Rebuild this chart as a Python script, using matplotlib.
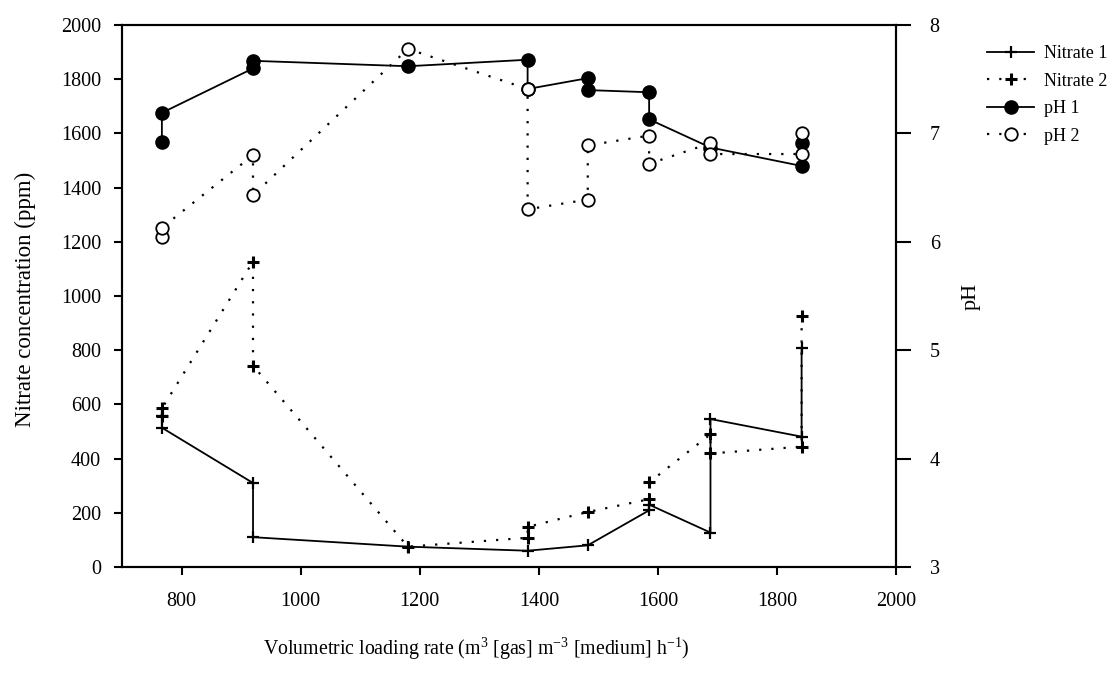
import numpy as np
import matplotlib.pyplot as plt
from matplotlib.ticker import MultipleLocator

plt.rcParams['font.family'] = ['Liberation Serif', 'DejaVu Serif']
plt.rcParams['mathtext.fontset'] = 'custom'
plt.rcParams['mathtext.rm'] = 'Liberation Serif'
plt.rcParams['mathtext.it'] = 'Liberation Serif:italic'

# loading rates (m3 gas / m3 medium / h), two readings per rate
nitrate1_x = [767, 767, 920, 920, 1180, 1381, 1482, 1585, 1585, 1688, 1688, 1841, 1841]
nitrate1_y = [557, 514, 310, 110, 75, 60, 80, 209, 230, 127, 546, 481, 810]

nitrate2_x = [767, 767, 920, 920, 1180, 1381, 1381, 1482, 1585, 1585, 1688, 1688, 1841, 1841]
nitrate2_y = [557, 585, 1127, 743, 75, 108, 148, 203, 250, 312, 490, 419, 444, 928]

ph1_x = [767, 767, 920, 920, 1180, 1381, 1381, 1482, 1482, 1585, 1585, 1688, 1841, 1841]
ph1_y = [6.92, 7.19, 7.60, 7.67, 7.62, 7.68, 7.41, 7.51, 7.40, 7.38, 7.13, 6.87, 6.70, 6.91]

ph2_x = [767, 767, 920, 920, 1180, 1381, 1381, 1482, 1482, 1585, 1585, 1688, 1688, 1841, 1841]
ph2_y = [6.04, 6.13, 6.80, 6.43, 7.78, 7.41, 6.30, 6.39, 6.89, 6.98, 6.72, 6.91, 6.81, 6.81, 7.00]

fs = 14.5
dots = (0, (1, 4.5))

fig = plt.figure(figsize=(11.19, 6.77), dpi=100)
ax = fig.add_axes([0.109, 0.1625, 0.692, 0.8005])
ax2 = ax.twinx()

l1, = ax.plot(nitrate1_x, nitrate1_y, color='k', lw=1.3, marker='+',
              ms=8, mew=1.6, label='Nitrate 1')
l2, = ax.plot(nitrate2_x, nitrate2_y, color='k', lw=1.6, ls=dots, marker='+',
              ms=8, mew=2.2, label='Nitrate 2')
l3, = ax2.plot(ph1_x, ph1_y, color='k', lw=1.3, marker='o', ms=9.5,
               mfc='k', mec='k', label='pH 1')
l4, = ax2.plot(ph2_x, ph2_y, color='k', lw=1.6, ls=dots, marker='o', ms=9,
               mfc='white', mec='k', mew=1.3, label='pH 2')

ax.set_xlim(700, 2000)
ax.set_ylim(0, 2000)
ax2.set_ylim(3, 8)
ax.set_xticks(np.arange(800, 2001, 200))
ax.yaxis.set_major_locator(MultipleLocator(200))
ax2.yaxis.set_major_locator(MultipleLocator(1))

for a in (ax, ax2):
    for s in a.spines.values():
        s.set_linewidth(1.5)
ax.tick_params(axis='y', direction='out', length=6, width=1.5,
               labelsize=fs, pad=9)
ax.tick_params(axis='x', direction='out', length=6, width=1.5,
               labelsize=fs, pad=12)
ax2.tick_params(axis='y', direction='out', length=11, width=1.5,
                labelsize=fs, pad=13)

ax.set_ylabel('Nitrate concentration (ppm)', fontsize=16.5)
ax.yaxis.set_label_coords(-0.111, 0.493)
ax2.set_ylabel('pH', fontsize=16)
ax2.yaxis.set_label_coords(1.085, 0.5)
ax.set_xlabel(r'Volumetric loading rate (m$^{3}$ [gas] m$^{-3}$ [medium] h$^{-1}$)',
              fontsize=14.3)
ax.xaxis.set_label_coords(0.458, -0.127)

fig.legend(handles=[l1, l2, l3, l4], loc='upper left',
           bbox_to_anchor=(0.876, 0.944), frameon=False, fontsize=13,
           handlelength=2.6, handletextpad=0.55, labelspacing=0.58,
           borderaxespad=0)

fig.savefig('out.png', dpi=100)
